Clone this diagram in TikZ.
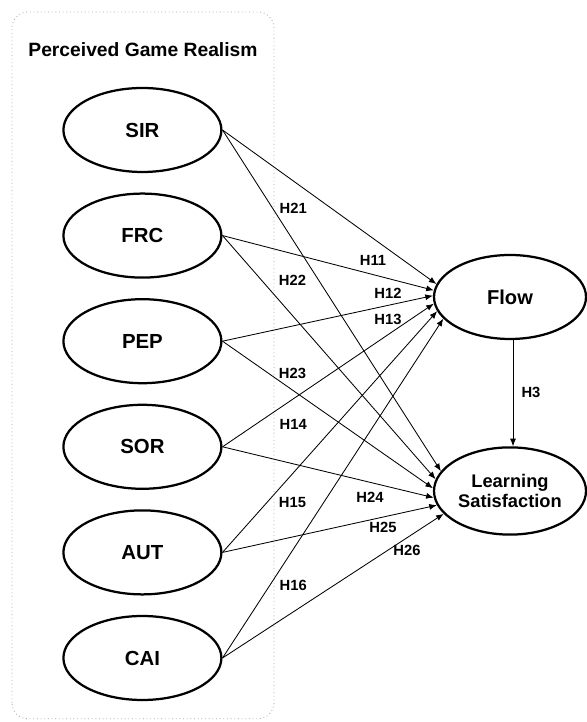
\documentclass[tikz,border=0pt]{standalone}
\usepackage{fontspec}
\setmainfont{Liberation Sans}
\usetikzlibrary{shapes.geometric,arrows.meta}

\tikzset{
    latent/.style={draw, ellipse, line width=1.6pt, inner sep=0pt,
        minimum width=3.95cm, minimum height=2.1cm, font=\bfseries\fontsize{14.5}{17}\selectfont},
    outcome/.style={latent, minimum width=3.8cm, align=center, font=\bfseries\fontsize{13}{15.5}\selectfont},
    path/.style={-{Latex[length=1.9mm, width=1.5mm]}, line width=0.6pt},
    hyp/.style={font=\bfseries\fontsize{10.5}{12}\selectfont, inner sep=1pt}
}

\begin{document}
\begin{tikzpicture}[scale=1]
        \useasboundingbox (0,0) rectangle (14.675,18.05);

        % Caja punteada del constructo
        \draw[gray!70, dotted, line width=0.6pt, rounded corners=0.4cm] (0.3,0.08) rectangle (6.85,17.75);
        \node[font=\bfseries\fontsize{13.7}{16}\selectfont] (title) at (3.575,16.8) {Perceived Game Realism};

        % Variables latentes
        \foreach \name/\y in {SIR/14.8, FRC/12.16, PEP/9.52, SOR/6.88, AUT/4.24, CAI/1.6} {
            \node[latent] (\name) at (3.56,\y) {\name};
        }

        \node[outcome, font=\bfseries\fontsize{14.3}{16}\selectfont] (flow) at (12.75,10.625) {Flow};
        \node[outcome, minimum height=2.18cm] (ls) at (12.75,5.775) {Learning\\[-1pt]Satisfaction};

        % Caminos
        \foreach \src/\fa/\la in {SIR/170/164, FRC/175/171, PEP/179/178, SOR/185/185, AUT/191/191, CAI/198/199} {
            \draw[path] (\src.east) -- (flow.\fa);
            \draw[path] (\src.east) -- (ls.\la);
        }
        \draw[path] (flow.-86) -- (ls.north -| flow.-86);

        % Hipotesis
        \node[hyp, anchor=west] (h21) at (6.95,12.85) {H21};
        \node[hyp, anchor=west] (h22) at (6.93,11.05) {H22};
        \node[hyp, anchor=west] (h23) at (6.93,8.725) {H23};
        \node[hyp, anchor=west] (h14) at (6.95,7.45) {H14};
        \node[hyp, anchor=west] (h15) at (6.93,5.5) {H15};
        \node[hyp, anchor=west] (h16) at (6.95,3.425) {H16};
        \node[hyp] (h11) at (9.325,11.55) {H11};
        \node[hyp] (h12) at (9.7,10.725) {H12};
        \node[hyp] (h13) at (9.7,10.075) {H13};
        \node[hyp] (h24) at (9.25,5.625) {H24};
        \node[hyp] (h25) at (9.575,4.875) {H25};
        \node[hyp] (h26) at (10.175,4.3) {H26};
        \node[hyp] (h3) at (13.275,8.25) {H3};
    \end{tikzpicture}
\end{document}
